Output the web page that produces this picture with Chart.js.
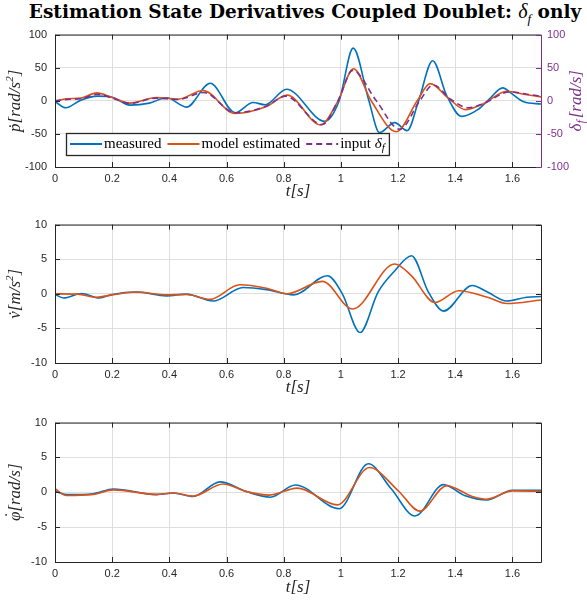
<!DOCTYPE html>
<html>
<head>
<meta charset="utf-8">
<script src="https://cdn.jsdelivr.net/npm/chart.js@4.4.1/dist/chart.umd.min.js"></script>
<style>
  body { margin: 0; width: 587px; height: 605px; background: #fff; position: relative; overflow: hidden; }
  #title { position: absolute; left: 305px; top: 0px; transform: translateX(-50%); white-space: nowrap;
           font: bold 18.5px "DejaVu Serif", serif; color: #000; }
  #title i { font-weight: normal; font-family: "Liberation Serif", serif; font-size: 20px; }
  #title sub { font-size: 13px; }
  canvas { position: absolute; left: 0; }
</style>
</head>
<body>
<div id="title">Estimation State Derivatives Coupled Doublet: <i>δ<sub>f</sub></i> only</div>
<canvas id="pChart" width="587" height="182" style="top:20px"></canvas>
<canvas id="vChart" width="587" height="188" style="top:210px"></canvas>
<canvas id="phiChart" width="587" height="190" style="top:408px"></canvas>
<script>
// axis ticks
const timeTicks = [0, 0.2, 0.4, 0.6, 0.8, 1, 1.2, 1.4, 1.6];
const timeTickLabels = ['0', '0.2', '0.4', '0.6', '0.8', '1', '1.2', '1.4', '1.6'];
const pTicks = [-100, -50, 0, 50, 100];
const smallTicks = [-10, -5, 0, 5, 10];

// p-dot [rad/s^2]
const pMeasuredT = [0, 0.038, 0.09, 0.15, 0.2, 0.262, 0.33, 0.39, 0.46, 0.543, 0.63, 0.693, 0.735, 0.81, 0.944, 0.994, 1.043, 1.098, 1.135, 1.188, 1.232, 1.272, 1.321, 1.37, 1.422, 1.48, 1.52, 1.566, 1.6, 1.64, 1.7];
const pMeasured  = [-1, -10.5, 1, 7, 5.5, -6.5, -3.5, 4.5, -9.5, 26.5, -18, -2.5, -6, 17.5, -31, 0, 79.5, 0, -48, -33, -45, 0, 60.5, 8, -23.5, -13, 3, 19.5, 10, -1.5, -4.8];
const pModelT = [0, 0.04, 0.09, 0.146, 0.2, 0.262, 0.355, 0.43, 0.518, 0.629, 0.74, 0.812, 0.929, 0.99, 1.044, 1.106, 1.194, 1.267, 1.312, 1.376, 1.435, 1.5, 1.58, 1.64, 1.7];
const pModel  = [-1, 3, 4, 12, 5, -3.5, 5, 2.5, 15.5, -19, -8.5, 8.5, -36.5, 0, 48.5, 0, -46.7, 0, 26, 4, -13.3, -4, 14.5, 10, 5.9];
const inputT = [0, 0.04, 0.09, 0.15, 0.2, 0.262, 0.355, 0.43, 0.52, 0.63, 0.74, 0.806, 0.935, 0.99, 1.041, 1.124, 1.206, 1.276, 1.323, 1.385, 1.447, 1.5, 1.59, 1.65, 1.7];
const inputDelta = [0, 2, 3, 10, 4, -4, 4, 2, 12.5, -18, -8, 7, -35.7, 0, 46, 0, -43, 0, 24, 2, -10.5, -4, 13.5, 10, 6.8];

// v-dot [m/s^2]
const vMeasuredT = [0, 0.03, 0.093, 0.155, 0.2, 0.285, 0.39, 0.46, 0.553, 0.658, 0.74, 0.835, 0.953, 1.005, 1.067, 1.13, 1.188, 1.247, 1.306, 1.359, 1.459, 1.513, 1.58, 1.65, 1.7];
const vMeasured  = [-0.1, -0.6, 0.05, -0.6, -0.1, 0.25, -0.3, -0.05, -1.05, 0.9, 0.6, -0.15, 2.6, 0, -5.6, 0.25, 3.3, 5.5, 0.25, -2.5, 1.2, 0.25, -1.05, -0.5, -0.4];
const vModelT = [0, 0.08, 0.146, 0.2, 0.285, 0.39, 0.46, 0.542, 0.646, 0.74, 0.812, 0.935, 1.041, 1.188, 1.247, 1.329, 1.412, 1.513, 1.58, 1.7];
const vModel  = [0, -0.05, -0.5, -0.15, 0.25, -0.15, -0.1, -0.8, 1.3, 0.8, 0, 1.8, -2.2, 4.3, 2.6, -1.25, 0.45, -0.5, -1.4, -0.9];

// phi-dot [rad/s]
const phiMeasuredT = [0, 0.04, 0.134, 0.204, 0.355, 0.414, 0.483, 0.577, 0.67, 0.753, 0.841, 0.994, 1.096, 1.176, 1.259, 1.359, 1.435, 1.51, 1.6, 1.7];
const phiMeasured  = [0.15, -0.33, -0.2, 0.48, -0.33, -0.1, -0.6, 1.5, 0.1, -0.7, 1.05, -2.35, 4.1, 0.5, -3.4, 1.1, -0.5, -1.1, 0.3, 0.3];
const phiModelT = [0, 0.04, 0.134, 0.204, 0.355, 0.414, 0.483, 0.588, 0.67, 0.75, 0.847, 0.988, 1.1, 1.2, 1.276, 1.37, 1.46, 1.51, 1.6, 1.7];
const phiModel  = [0.5, -0.45, -0.3, 0.35, -0.3, -0.1, -0.55, 1.2, 0.1, -0.4, 0.6, -1.8, 3.55, 0.25, -2.7, 0.95, -0.6, -1.0, 0.2, 0.15];

const BLUE = '#0072BD', ORANGE = '#D95319', PURPLE = '#7E2F8E', AXIS = '#262626', GRID = '#dfdfdf';
const SERIF = '"Liberation Serif", "DejaVu Serif", serif';
const tickFont = { family: '"Liberation Sans", Arial, sans-serif', size: 11 };
const labelFont = { family: SERIF, size: 17, style: 'italic' };

const pts = (ts, vs) => ts.map((t, i) => ({ x: t, y: vs[i] }));

function line(label, data, color, order, extra) {
  return Object.assign({
    label, data, borderColor: color, backgroundColor: color, borderWidth: 1.6,
    pointRadius: 0, cubicInterpolationMode: 'monotone', fill: false, order
  }, extra || {});
}

// MATLAB style box with inward ticks
const boxPlugin = {
  id: 'matlabBox',
  afterDatasetsDraw(chart) {
    const { ctx, chartArea: a, scales } = chart;
    const len = 5;
    const hasRight = !!scales.y1;
    ctx.save();
    ctx.lineWidth = 1;
    ctx.strokeStyle = AXIS;
    ctx.beginPath();
    scales.x.ticks.forEach(t => {
      const x = Math.round(scales.x.getPixelForValue(t.value)) + 0.5;
      ctx.moveTo(x, a.bottom); ctx.lineTo(x, a.bottom - len);
      ctx.moveTo(x, a.top); ctx.lineTo(x, a.top + len);
    });
    scales.y.ticks.forEach(t => {
      const y = Math.round(scales.y.getPixelForValue(t.value)) + 0.5;
      ctx.moveTo(a.left, y); ctx.lineTo(a.left + len, y);
      if (!hasRight) { ctx.moveTo(a.right, y); ctx.lineTo(a.right - len, y); }
    });
    ctx.moveTo(a.right + 0.5, a.top + 0.5);
    ctx.lineTo(a.left + 0.5, a.top + 0.5);
    ctx.lineTo(a.left + 0.5, a.bottom + 0.5);
    ctx.lineTo(a.right + 0.5, a.bottom + 0.5);
    if (!hasRight) ctx.lineTo(a.right + 0.5, a.top + 0.5);
    ctx.stroke();
    if (hasRight) {
      ctx.strokeStyle = PURPLE;
      ctx.beginPath();
      ctx.moveTo(a.right + 0.5, a.top + 0.5);
      ctx.lineTo(a.right + 0.5, a.bottom + 0.5);
      scales.y1.ticks.forEach(t => {
        const y = Math.round(scales.y1.getPixelForValue(t.value)) + 0.5;
        ctx.moveTo(a.right, y); ctx.lineTo(a.right - len, y);
      });
      ctx.stroke();
    }
    ctx.restore();
  }
};

// rotated y label with a dotted symbol: base glyph, dot over it, then the unit
const yTitlePlugin = {
  id: 'yTitle',
  afterDraw(chart, args, opts) {
    const { ctx, chartArea: a } = chart;
    ctx.save();
    ctx.translate(14, (a.top + a.bottom) / 2);
    ctx.rotate(-Math.PI / 2);
    ctx.fillStyle = AXIS;
    ctx.textBaseline = 'alphabetic';
    ctx.font = 'italic 17px ' + SERIF;
    const wb = ctx.measureText(opts.base).width;
    const wu = ctx.measureText(opts.unit).width;
    ctx.font = 'italic 11px ' + SERIF;
    const ws = opts.sup ? ctx.measureText(opts.sup).width : 0;
    ctx.font = 'italic 17px ' + SERIF;
    const wc = opts.close ? ctx.measureText(opts.close).width : 0;
    let sx = -(wb + wu + ws + wc) / 2;
    const base = 6;
    ctx.fillText(opts.base, sx, base);
    // dot above the symbol
    ctx.font = '17px ' + SERIF;
    ctx.textAlign = 'center';
    ctx.fillText('˙', sx + wb / 2 + (opts.dotShift || 1), base - (opts.dotLift || 0));
    ctx.textAlign = 'left';
    ctx.font = 'italic 17px ' + SERIF;
    ctx.fillText(opts.unit, sx + wb, base);
    if (opts.sup) {
      ctx.font = 'italic 11px ' + SERIF;
      ctx.fillText(opts.sup, sx + wb + wu, base - 7);
      ctx.font = 'italic 17px ' + SERIF;
      ctx.fillText(opts.close, sx + wb + wu + ws, base);
    }
    ctx.restore();
  }
};

// legend inside the axes + right axis label (top chart only)
const legendPlugin = {
  id: 'insideLegend',
  afterDraw(chart) {
    const { ctx, chartArea: a } = chart;
    const items = chart.data.datasets.slice().sort((d1, d2) => d2.order - d1.order);
    ctx.save();
    const x0 = a.left + 11, top = a.bottom - 34, h = 22, mid = top + h / 2;
    let x = x0 + 4;
    const layout = items.map(ds => {
      const parts = ds.label.split('_');
      ctx.font = '15px ' + SERIF;
      const w1 = ctx.measureText(parts[0]).width;
      ctx.font = 'italic 11px ' + SERIF;
      const w2 = parts[1] ? ctx.measureText(parts[1]).width : 0;
      const item = { ds, parts, x, w1 };
      x += 34 + w1 + w2 + 6;
      return item;
    });
    const boxW = x - x0 - 2;
    ctx.fillStyle = '#fff';
    ctx.fillRect(x0, top, boxW, h);
    ctx.strokeStyle = AXIS;
    ctx.lineWidth = 1.3;
    ctx.strokeRect(x0 + 0.5, top + 0.5, boxW, h);
    layout.forEach(it => {
      ctx.strokeStyle = it.ds.borderColor;
      ctx.lineWidth = 2;
      ctx.setLineDash(it.ds.borderDash || []);
      ctx.beginPath();
      ctx.moveTo(it.x, mid); ctx.lineTo(it.x + 32, mid);
      ctx.stroke();
      ctx.setLineDash([]);
      ctx.fillStyle = '#000';
      ctx.textBaseline = 'middle';
      ctx.font = '15px ' + SERIF;
      const label = it.parts[0];
      if (it.parts[1]) {
        const plain = label.slice(0, -1);
        ctx.fillText(plain, it.x + 34, mid);
        const pw = ctx.measureText(plain).width;
        ctx.font = 'italic 15px ' + SERIF;
        ctx.fillText(label.slice(-1), it.x + 34 + pw, mid);
        const dw = ctx.measureText(label.slice(-1)).width;
        ctx.font = 'italic 11px ' + SERIF;
        ctx.fillText(it.parts[1], it.x + 34 + pw + dw, mid + 4);
      } else {
        ctx.fillText(label, it.x + 34, mid);
      }
    });

    // right axis title, reads bottom to top
    ctx.translate(577, (a.top + a.bottom) / 2);
    ctx.rotate(-Math.PI / 2);
    ctx.fillStyle = PURPLE;
    ctx.textBaseline = 'middle';
    ctx.font = 'italic 17px ' + SERIF;
    const wD = ctx.measureText('δ').width;
    ctx.font = 'italic 12px ' + SERIF;
    const wF = ctx.measureText('f').width;
    ctx.font = 'italic 17px ' + SERIF;
    const wR = ctx.measureText('[rad/s]').width;
    const sx = -(wD + wF + 2 + wR) / 2;
    ctx.fillText('δ', sx, 0);
    ctx.font = 'italic 12px ' + SERIF;
    ctx.fillText('f', sx + wD, 5);
    ctx.font = 'italic 17px ' + SERIF;
    ctx.fillText('[rad/s]', sx + wD + wF + 2, 0);
    ctx.restore();
  }
};

function xScale(height) {
  return {
    type: 'linear', min: 0, max: 1.7,
    afterBuildTicks: s => { s.ticks = timeTicks.map(v => ({ value: v })); },
    afterFit: s => { s.height = height; },
    ticks: { font: tickFont, color: AXIS, padding: 5, maxRotation: 0, autoSkip: false,
             callback: (v, i) => timeTickLabels[i] },
    grid: { color: GRID, drawTicks: false },
    border: { display: false },
    title: { display: true, text: 't[s]', font: labelFont, color: AXIS, padding: 0 }
  };
}

function yScale(ticks) {
  return {
    type: 'linear', min: ticks[0], max: ticks[ticks.length - 1],
    afterBuildTicks: s => { s.ticks = ticks.map(v => ({ value: v })); },
    afterFit: s => { s.width = 55; },
    ticks: { font: tickFont, color: AXIS, padding: 8 },
    grid: { color: GRID, drawTicks: false },
    border: { display: false }
  };
}

const baseOptions = (scales, padding, yTitle) => ({
  responsive: false, animation: false, devicePixelRatio: 1,
  layout: { padding },
  plugins: { legend: { display: false }, tooltip: { enabled: false }, yTitle },
  scales
});

new Chart(document.getElementById('pChart'), {
  type: 'line',
  data: {
    datasets: [
      line('measured', pts(pMeasuredT, pMeasured), BLUE, 3),
      line('model estimated', pts(pModelT, pModel), ORANGE, 2),
      line('input δ_f', pts(inputT, inputDelta), PURPLE, 1, { borderDash: [6, 4], yAxisID: 'y1' })
    ]
  },
  options: baseOptions({
    x: xScale(35),
    y: yScale(pTicks),
    y1: {
      type: 'linear', position: 'right', min: -100, max: 100,
      afterBuildTicks: s => { s.ticks = pTicks.map(v => ({ value: v })); },
      afterFit: s => { s.width = 46; },
      ticks: { font: tickFont, color: PURPLE, padding: 6 },
      grid: { drawOnChartArea: false, drawTicks: false },
      border: { display: false }
    }
  }, { top: 8, right: 0, left: 0, bottom: 0 },
  { base: 'p', unit: '[rad/s', sup: '2', close: ']', dotShift: 1.5, dotLift: 0 }),
  plugins: [boxPlugin, yTitlePlugin, legendPlugin]
});

new Chart(document.getElementById('vChart'), {
  type: 'line',
  data: {
    datasets: [
      line('measured', pts(vMeasuredT, vMeasured), BLUE, 2),
      line('model estimated', pts(vModelT, vModel), ORANGE, 1)
    ]
  },
  options: baseOptions({
    x: xScale(35),
    y: yScale(smallTicks)
  }, { top: 14, right: 46, left: 0, bottom: 0 },
  { base: 'v', unit: '[m/s', sup: '2', close: ']', dotShift: 1.5, dotLift: 0 }),
  plugins: [boxPlugin, yTitlePlugin]
});

new Chart(document.getElementById('phiChart'), {
  type: 'line',
  data: {
    datasets: [
      line('measured', pts(phiMeasuredT, phiMeasured), BLUE, 2),
      line('model estimated', pts(phiModelT, phiModel), ORANGE, 1)
    ]
  },
  options: baseOptions({
    x: xScale(36),
    y: yScale(smallTicks)
  }, { top: 14, right: 46, left: 0, bottom: 0 },
  { base: 'φ', unit: '[rad/s]', dotShift: 1.5, dotLift: 4 }),
  plugins: [boxPlugin, yTitlePlugin]
});
</script>
</body>
</html>
